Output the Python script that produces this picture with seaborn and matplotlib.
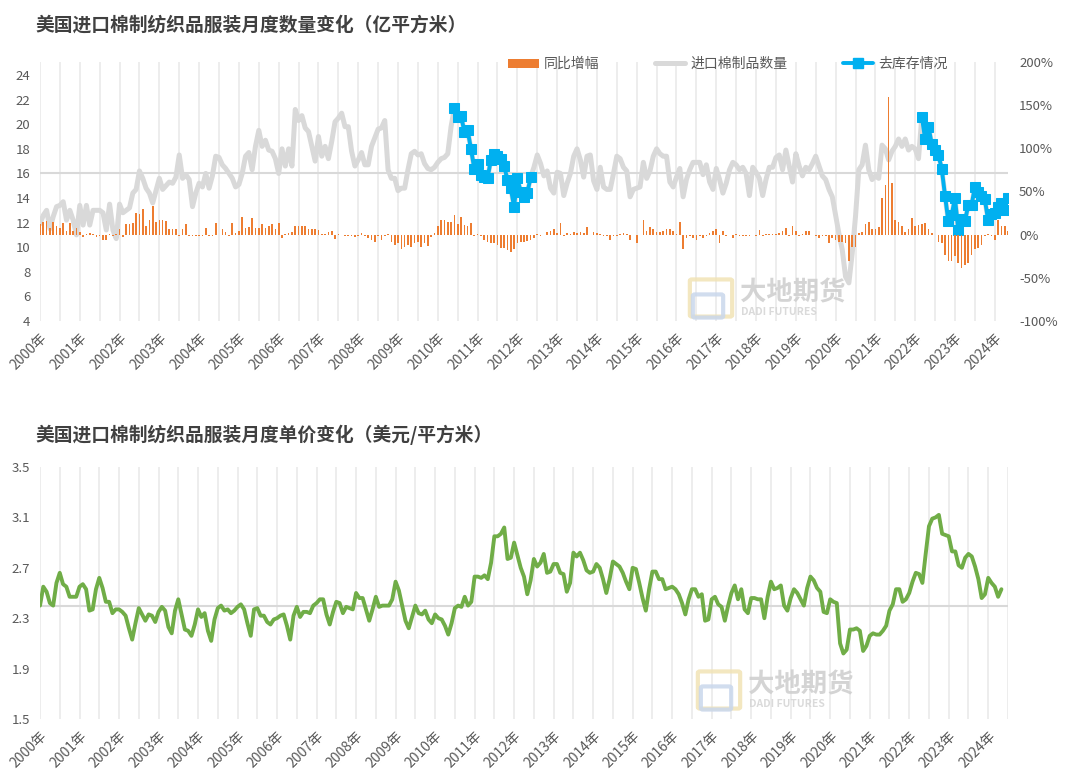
import numpy as np
import pandas as pd
import matplotlib
matplotlib.use("Agg")
import matplotlib.pyplot as plt
import seaborn as sns
from matplotlib.lines import Line2D
from matplotlib.patches import Patch, FancyBboxPatch

# ---------------- data (monthly, 2000-01 .. 2024-05) ----------------
TITLE_QTY = "美国进口棉制纺织品服装月度数量变化（亿平方米）"
TITLE_PRICE = "美国进口棉制纺织品服装月度单价变化（美元/平方米）"
LEGEND_LABELS = ["同比增幅", "进口棉制品数量", "去库存情况"]
YEAR_LABELS = ["2000年", "2001年", "2002年", "2003年", "2004年", "2005年", "2006年",
               "2007年", "2008年", "2009年", "2010年", "2011年", "2012年", "2013年",
               "2014年", "2015年", "2016年", "2017年", "2018年", "2019年", "2020年",
               "2021年", "2022年", "2023年", "2024年"]
START_MONTH = "2000-01-01"

# import quantity (亿平方米)
QTY = [
    11.9, 12.6, 13.0, 11.5, 12.5, 13.3, 13.4, 13.7, 12.2, 13.0, 12.2, 11.0,   # 2000
    13.4, 11.8, 13.4, 11.8, 13.0, 13.0, 13.0, 12.8, 11.4, 13.5, 11.4, 10.7,   # 2001
    13.5, 12.8, 13.0, 13.2, 14.4, 14.7, 16.2, 15.6, 14.8, 14.4, 13.6, 14.6,   # 2002
    15.6, 14.7, 15.0, 15.3, 15.2, 15.7, 17.5, 15.6, 15.9, 15.5, 13.3, 14.4,   # 2003
    15.2, 14.9, 16.0, 14.8, 15.8, 17.4, 17.3, 16.7, 16.4, 16.0, 15.6, 14.9,   # 2004
    15.1, 16.0, 17.4, 17.7, 16.3, 18.2, 19.5, 18.2, 18.7, 17.9, 17.8, 17.2,   # 2005
    16.0, 18.0, 16.6, 18.0, 16.6, 21.2, 20.3, 20.7, 19.7, 19.4, 18.2, 17.0,   # 2006
    19.0, 17.4, 18.2, 17.2, 18.6, 20.2, 20.5, 20.9, 19.8, 19.8, 17.8, 16.6,   # 2007
    17.1, 17.7, 16.7, 16.7, 18.2, 18.9, 19.6, 19.7, 20.3, 16.3, 15.6, 15.6,   # 2008
    14.6, 14.8, 14.8, 16.3, 17.6, 17.8, 17.5, 17.6, 16.8, 16.4, 16.3, 16.5,   # 2009
    16.9, 17.2, 17.3, 17.6, 19.8, 21.3, 20.6, 20.7, 19.4, 19.5, 18.0, 16.4,   # 2010
    16.8, 15.9, 15.7, 15.6, 17.1, 17.6, 17.4, 17.2, 16.6, 15.5, 14.8, 13.3,   # 2011
    15.6, 14.5, 14.1, 14.4, 15.7, 16.5, 17.5, 16.8, 15.8, 16.2, 14.8, 14.4,   # 2012
    16.1, 16.0, 14.2, 15.2, 16.0, 17.4, 18.0, 17.1, 15.7, 17.4, 17.5, 15.4,   # 2013
    14.7, 16.5, 14.9, 14.7, 14.7, 16.0, 17.4, 17.2, 16.5, 16.2, 14.1, 14.7,   # 2014
    14.8, 14.9, 16.9, 15.6, 16.2, 17.4, 18.0, 17.6, 17.4, 17.4, 15.3, 14.9,   # 2015
    15.7, 16.4, 14.1, 15.5, 16.3, 16.9, 16.9, 16.9, 15.9, 16.7, 15.3, 14.7,   # 2016
    16.4, 15.5, 14.4, 15.2, 16.3, 16.9, 16.7, 16.3, 16.5, 16.0, 14.2, 16.5,   # 2017
    16.1, 15.6, 14.2, 15.5, 16.5, 16.5, 17.3, 17.5, 16.3, 17.9, 16.6, 15.3,   # 2018
    17.6, 16.6, 15.8, 16.5, 16.3, 16.8, 17.4, 16.6, 15.8, 15.5, 14.7, 14.1,   # 2019
    12.6, 11.1, 9.8, 7.6, 7.1, 9.5, 12.5, 16.3, 16.7, 18.3, 16.3, 15.5,       # 2020
    15.8, 15.6, 18.3, 18.0, 17.1, 17.8, 18.2, 18.8, 18.2, 18.8, 17.9, 18.2,   # 2021
    18.0, 17.2, 20.6, 18.8, 19.8, 18.4, 17.9, 17.5, 16.4, 14.2, 12.1, 12.6,   # 2022
    14.0, 11.4, 12.3, 12.1, 13.4, 13.4, 14.9, 14.5, 14.2, 13.9, 12.2, 12.7,   # 2023
    12.8, 13.3, 13.6, 13.0, 14.0,                                             # 2024
]

# year-on-year change (%)
YOY = [
    12, 15, 16, 8, 15, 10, 8, 13, 4, 14, 4, 8,            # 2000
    3, -3, 1, 2, 1, -3, -1, -6, -6, 1, -1, 1,             # 2001
    6, -3, 12, 12, 13, 25, 24, 30, 10, 17, 33, 15,        # 2002
    17, 17, 16, 6, 6, 7, -1, 6, 12, -2, -1, -2,           # 2003
    -1, -2, 8, -2, -1, 13, 0, 7, 3, -2, 14, 2,            # 2004
    4, 21, 8, 9, 19, 8, 8, 12, 8, 10, 12, 6,              # 2005
    13, -4, 1, 2, 3, 10, 10, 10, 10, 7, 6, 6,             # 2006
    5, 1, 1, 3, 4, -5, 1, 0, -1, -1, -2, -3,              # 2007
    -2, 2, -2, -4, -6, -8, -2, -6, -2, 1, -8, -12,        # 2008
    -10, -17, -14, -12, -14, -10, -9, -14, -10, -13, -3, 2,  # 2009
    10, 17, 17, 15, 15, 23, 12, 20, 11, 10, 13, -2,       # 2010
    1, -2, -6, -9, -10, -10, -12, -15, -16, -18, -20, -17,  # 2011
    -10, -9, -8, -7, -6, -4, 1, -1, 0, 3, 4, 7,           # 2012
    2, 13, -1, 2, 1, 3, 2, 3, 2, 9, 0, 3,                 # 2013
    2, 1, -2, -1, -6, -2, -1, 1, 2, 1, -6, 0,             # 2014
    -10, 0, 17, 4, 9, 7, 3, 3, 4, 7, 7, 4,                # 2015
    1, 15, -17, -4, -2, -4, -6, -2, -4, -2, 2, 4,         # 2016
    6, -10, 4, -2, 0, -4, 1, -2, -1, -1, -2, 0,           # 2017
    -2, 5, -2, 1, 1, 1, 1, 2, 4, 8, -2, 10,               # 2018
    4, -2, 1, 4, 4, 0, -2, -4, -2, -2, -10, -4,           # 2019
    -6, -8, -9, -10, -31, -14, -14, 2, 3, 12, 15, 7,      # 2020
    6, 9, 42, 58, 160, 60, 17, 15, 10, 3, 6, 19,          # 2021
    10, 11, 12, 13, 6, 2, 0, -8, -10, -23, -31, -31,      # 2022
    -25, -33, -39, -35, -33, -23, -17, -15, -12, -2, 1, -1,  # 2023
    -6, 17, 10, 10, 4,                                    # 2024
]

# unit price (美元/平方米)
PRICE = [
    2.40, 2.55, 2.51, 2.42, 2.40, 2.58, 2.66, 2.57, 2.55, 2.47, 2.47, 2.47,   # 2000
    2.55, 2.57, 2.53, 2.36, 2.37, 2.53, 2.62, 2.54, 2.43, 2.43, 2.34, 2.37,   # 2001
    2.37, 2.35, 2.32, 2.22, 2.13, 2.26, 2.38, 2.33, 2.28, 2.33, 2.32, 2.27,   # 2002
    2.35, 2.39, 2.36, 2.23, 2.18, 2.36, 2.45, 2.33, 2.21, 2.20, 2.16, 2.25,   # 2003
    2.37, 2.31, 2.34, 2.20, 2.12, 2.29, 2.38, 2.40, 2.36, 2.37, 2.34, 2.36,   # 2004
    2.39, 2.41, 2.37, 2.26, 2.16, 2.37, 2.38, 2.32, 2.32, 2.27, 2.25, 2.29,   # 2005
    2.30, 2.32, 2.33, 2.24, 2.13, 2.32, 2.39, 2.31, 2.35, 2.35, 2.34, 2.40,   # 2006
    2.42, 2.45, 2.45, 2.33, 2.25, 2.35, 2.43, 2.42, 2.34, 2.39, 2.38, 2.37,   # 2007
    2.50, 2.46, 2.46, 2.37, 2.28, 2.37, 2.47, 2.39, 2.40, 2.40, 2.40, 2.45,   # 2008
    2.59, 2.52, 2.40, 2.28, 2.22, 2.31, 2.40, 2.34, 2.33, 2.36, 2.29, 2.26,   # 2009
    2.33, 2.30, 2.29, 2.24, 2.17, 2.26, 2.38, 2.40, 2.39, 2.47, 2.40, 2.43,   # 2010
    2.63, 2.63, 2.62, 2.64, 2.61, 2.74, 2.95, 2.95, 2.97, 3.02, 2.77, 2.78,   # 2011
    2.90, 2.80, 2.70, 2.63, 2.49, 2.60, 2.77, 2.71, 2.74, 2.81, 2.66, 2.67,   # 2012
    2.73, 2.73, 2.66, 2.65, 2.51, 2.58, 2.82, 2.79, 2.82, 2.76, 2.68, 2.66,   # 2013
    2.67, 2.73, 2.70, 2.61, 2.50, 2.61, 2.75, 2.73, 2.71, 2.66, 2.59, 2.53,   # 2014
    2.70, 2.69, 2.58, 2.46, 2.36, 2.53, 2.67, 2.67, 2.61, 2.61, 2.53, 2.54,   # 2015
    2.55, 2.53, 2.49, 2.42, 2.33, 2.45, 2.53, 2.53, 2.47, 2.49, 2.28, 2.29,   # 2016
    2.45, 2.47, 2.41, 2.39, 2.28, 2.40, 2.50, 2.56, 2.45, 2.53, 2.37, 2.34,   # 2017
    2.46, 2.46, 2.45, 2.45, 2.30, 2.47, 2.59, 2.53, 2.54, 2.56, 2.40, 2.36,   # 2018
    2.46, 2.53, 2.50, 2.45, 2.40, 2.54, 2.63, 2.60, 2.54, 2.51, 2.35, 2.34,   # 2019
    2.45, 2.43, 2.42, 2.10, 2.02, 2.05, 2.21, 2.21, 2.22, 2.20, 2.04, 2.08,   # 2020
    2.16, 2.18, 2.17, 2.17, 2.20, 2.24, 2.36, 2.41, 2.53, 2.53, 2.43, 2.45,   # 2021
    2.50, 2.59, 2.66, 2.65, 2.58, 2.81, 3.03, 3.09, 3.10, 3.12, 2.97, 2.96,   # 2022
    2.95, 2.83, 2.83, 2.72, 2.70, 2.78, 2.81, 2.79, 2.71, 2.61, 2.46, 2.49,   # 2023
    2.62, 2.58, 2.55, 2.47, 2.53,                                             # 2024
]

# destocking periods (shown in blue on the quantity line)
DESTOCK_PERIODS = [("2010-06-01", "2012-05-01"), ("2022-03-01", "2024-05-01")]

QTY_TICKS = [4, 6, 8, 10, 12, 14, 16, 18, 20, 22, 24]
YOY_TICKS = [-100, -50, 0, 50, 100, 150, 200]
PRICE_TICKS = [1.5, 1.9, 2.3, 2.7, 3.1, 3.5]
QTY_REF = 16
PRICE_REF = 2.4

# ---------------- styling ----------------
C_BAR = "#ED7D31"
C_QTY = "#D9D9D9"
C_BLUE = "#00B0F0"
C_GREEN = "#70AD47"
C_GRID = "#E8E8E8"
C_TICK = "#595959"
C_TITLE = "#404040"

sns.set_theme(style="white")
plt.rcParams["font.family"] = ["Noto Sans CJK SC", "DejaVu Sans"]
plt.rcParams["axes.unicode_minus"] = False

W, H = 1080, 782
fig = plt.figure(figsize=(W / 100, H / 100), dpi=100)
fig.patch.set_facecolor("white")

df = pd.DataFrame({"qty": QTY, "yoy": YOY, "price": PRICE})
df["m"] = np.arange(len(df))
df["date"] = pd.date_range(START_MONTH, periods=len(df), freq="MS")
n_last = len(df) - 1


def px_axes(left, top, right, bottom):
    return fig.add_axes([left / W, 1 - bottom / H, (right - left) / W, (bottom - top) / H])


def style_x(ax):
    ax.set_xlim(0, n_last)
    ax.set_xticks(list(range(0, len(YEAR_LABELS) * 12, 12)))
    ax.set_xticks(list(range(6, len(YEAR_LABELS) * 12, 12)), minor=True)
    ax.set_xticklabels(YEAR_LABELS, rotation=45, ha="right", va="top",
                       rotation_mode="anchor", fontsize=10, color=C_TICK)
    ax.tick_params(axis="x", which="both", length=0, pad=7)
    ax.grid(True, axis="x", which="both", color=C_GRID, linewidth=1.1)
    ax.grid(False, axis="y")
    for s in ax.spines.values():
        s.set_visible(False)
    ax.set_xlabel("")
    ax.set_ylabel("")


def watermark(x, y):
    # logo (two light rounded frames) + company name
    logo = FancyBboxPatch((x / W, 1 - (y + 36) / H), 38 / W, 34 / H,
                          boxstyle="round,pad=0.002", transform=fig.transFigure,
                          facecolor="none", edgecolor="#F1E3B5", linewidth=3,
                          alpha=0.85, zorder=10)
    fig.add_artist(logo)
    logo2 = FancyBboxPatch(((x + 3) / W, 1 - (y + 37) / H), 26 / W, 20 / H,
                           boxstyle="round,pad=0.002", transform=fig.transFigure,
                           facecolor="none", edgecolor="#C9D7EC", linewidth=3,
                           alpha=0.85, zorder=10)
    fig.add_artist(logo2)
    fig.text((x + 48) / W, 1 - (y + 14) / H, "大地期货", fontsize=19, fontweight="bold",
             color="#D0D0D0", va="center", ha="left", alpha=0.9, zorder=10)
    fig.text((x + 49) / W, 1 - (y + 33) / H, "DADI FUTURES", fontsize=7.5, fontweight="bold",
             color="#D6D6D6", va="center", ha="left", alpha=0.9, zorder=10)


# ---------------- top panel ----------------
ax = px_axes(40, 62, 1008, 321)
ax2 = ax.twinx()

sns.lineplot(data=df, x="m", y="qty", ax=ax, color=C_QTY, linewidth=3.6,
             estimator=None, errorbar=None)
for start, end in DESTOCK_PERIODS:
    seg = df[(df["date"] >= start) & (df["date"] <= end)]
    sns.lineplot(data=seg, x="m", y="qty", ax=ax, color=C_BLUE, linewidth=2.8,
                 marker="s", markersize=6.5, markeredgecolor=C_BLUE,
                 estimator=None, errorbar=None, zorder=5)
ax.axhline(QTY_REF, color=C_QTY, linewidth=1.5, zorder=1)

sns.barplot(data=df, x="m", y="yoy", ax=ax2, native_scale=True, width=0.5,
            color=C_BAR, saturation=1, errorbar=None, linewidth=0)

style_x(ax)
ax.set_ylim(4, 25.06)
ax.set_yticks(QTY_TICKS)
ax.set_yticklabels([str(v) for v in QTY_TICKS])
ax.tick_params(axis="y", length=0, labelsize=9.5, labelcolor=C_TICK, pad=7)

ax2.set_ylim(-100, 200)
ax2.set_yticks(YOY_TICKS)
ax2.set_yticklabels([f"{v}%" for v in YOY_TICKS])
ax2.tick_params(axis="y", length=0, labelsize=9.5, labelcolor=C_TICK, pad=8)
ax2.tick_params(axis="x", which="both", length=0, labelbottom=False)
ax2.grid(False)
ax2.set_xlabel("")
ax2.set_ylabel("")
for s in ax2.spines.values():
    s.set_visible(False)
ax.set_xlim(0, n_last)
ax2.set_xlim(0, n_last)

handles = [Patch(facecolor=C_BAR, edgecolor="none"),
           Line2D([0], [0], color=C_QTY, linewidth=3.6),
           Line2D([0], [0], color=C_BLUE, linewidth=2.8, marker="s", markersize=6.5)]
fig.legend(handles, LEGEND_LABELS, loc="center", bbox_to_anchor=(728 / W, 1 - 64 / H),
           ncol=3, frameon=False, fontsize=10, labelcolor=C_TICK,
           handlelength=2.2, handleheight=0.6, handletextpad=0.35, columnspacing=4.0)

# ---------------- bottom panel ----------------
ax3 = px_axes(40, 467, 1008, 719)
sns.lineplot(data=df, x="m", y="price", ax=ax3, color=C_GREEN, linewidth=2.8,
             estimator=None, errorbar=None, zorder=4)
ax3.axhline(PRICE_REF, color=C_QTY, linewidth=1.5, zorder=1)
style_x(ax3)
ax3.set_ylim(1.5, 3.5)
ax3.set_yticks(PRICE_TICKS)
ax3.set_yticklabels([f"{v:.1f}" for v in PRICE_TICKS])
ax3.tick_params(axis="y", length=0, labelsize=9.5, labelcolor=C_TICK, pad=7)

# ---------------- titles & watermarks ----------------
fig.text(35 / W, 1 - 25 / H, TITLE_QTY, fontsize=13.5, fontweight="bold",
         color=C_TITLE, ha="left", va="center")
fig.text(35 / W, 1 - 435 / H, TITLE_PRICE, fontsize=13.5, fontweight="bold",
         color=C_TITLE, ha="left", va="center")
watermark(692, 279)
watermark(700, 671)

fig.savefig("out.png", dpi=100, facecolor="white")
